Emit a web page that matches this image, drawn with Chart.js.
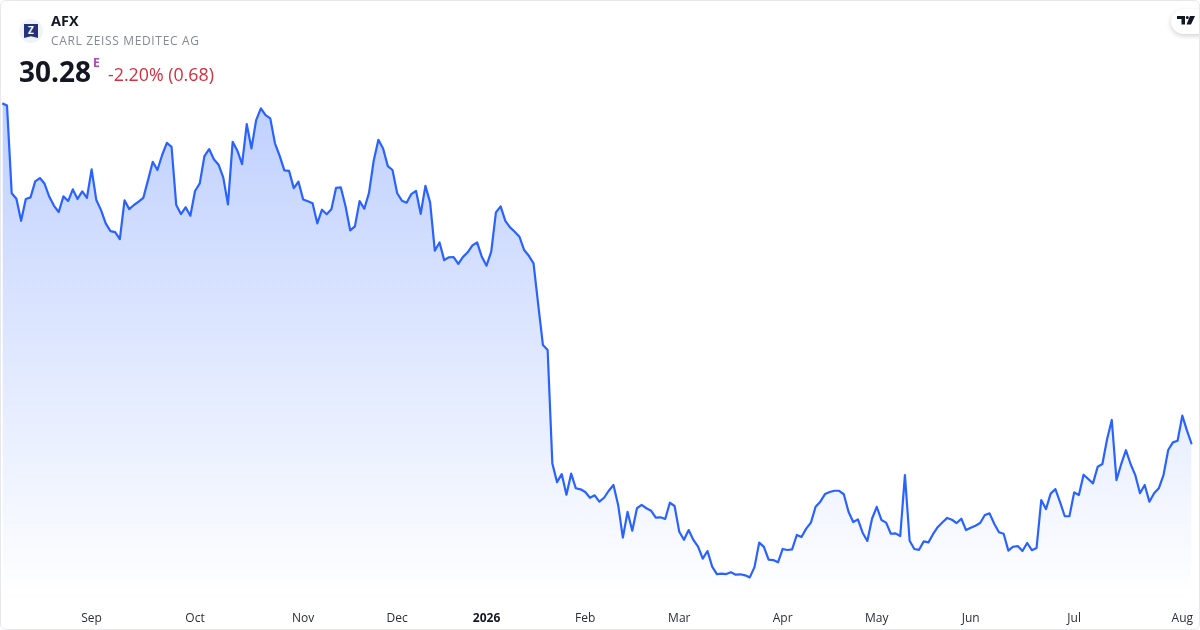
<!DOCTYPE html>
<html lang="en">
<head>
<meta charset="UTF-8">
<title>AFX</title>
<script src="https://cdn.jsdelivr.net/npm/chart.js"></script>
<style>
    html, body { margin: 0; padding: 0; background: #fff; }
    body { font-family: "Open Sans", sans-serif; }
    .card { position: absolute; left: 0; top: 0; width: 1200px; height: 630px; box-sizing: border-box; border: 1px solid #e6e8ee; border-radius: 6px; overflow: hidden; background: #fff; }
    canvas { position: absolute; left: -1px; top: -1px; }
    .t { position: absolute; white-space: nowrap; line-height: 1; }
    .logo { position: absolute; left: 18px; top: 18px; width: 24px; height: 24px; border-radius: 50%; background: #f0f3fa; }
    .logo div { position: absolute; left: 5px; top: 5px; width: 14px; height: 14px; background: #27307c; color: #fff; font: bold 10px/13px "Open Sans", sans-serif; text-align: center; clip-path: polygon(0 0, 100% 0, 100% 100%, 50% 88%, 0 100%); }
    .badge { position: absolute; left: 1170px; top: 8px; width: 50px; height: 25px; border-radius: 13px; background: #fff; box-shadow: 0 2px 5px rgba(0,0,0,.18); }
</style>
</head>
<body>
<div class="card">
    <canvas id="c" width="1200" height="630"></canvas>
    <div class="logo"><div>Z</div></div>
    <div class="t" style="left:50px;top:13px;font-size:14.5px;font-weight:700;color:#131722">AFX</div>
    <div class="t" style="left:50px;top:34px;font-size:12px;letter-spacing:.65px;color:#868993">CARL ZEISS MEDITEC AG</div>
    <div class="t" style="left:18px;top:56px;font-size:28px;font-weight:700;color:#131722">30.28</div>
    <div class="t" style="left:92px;top:56px;font-size:12px;font-weight:700;color:#ab47bc">E</div>
    <div class="t" style="left:107px;top:65px;font-size:17.8px;color:#d32f3f">-2.20% (0.68)</div>
    <div class="badge">
        <svg style="position:absolute;left:6px;top:7px" width="18" height="10" viewBox="0 0 18 10"><path d="M0 0h8v8.5H4.5V3H0z M10.3 0a1.5 1.5 0 1 1 0 3a1.5 1.5 0 0 1 0-3z M13 0h5l-4 8.5H9.5z" fill="#131722"/></svg>
    </div>
</div>

<script>
    // daily close, EUR
    const closes = [
        46.85,46.75,42.48,42.21,41.14,42.20,42.28,43.06,43.22,42.94,
        42.31,41.87,41.57,42.33,42.10,42.67,42.20,42.57,42.26,43.64,
        42.15,41.66,41.02,40.64,40.59,40.25,42.14,41.71,41.91,42.07,
        42.26,43.12,44.01,43.61,44.34,44.93,44.74,41.91,41.47,41.80,
        41.39,42.59,42.96,44.29,44.63,44.13,43.87,43.25,41.94,44.98,
        44.55,43.90,45.84,44.66,46.04,46.61,46.28,46.12,44.91,44.30,
        43.59,43.57,42.73,43.04,42.18,42.09,41.99,41.02,41.68,41.46,
        41.70,42.75,42.77,41.86,40.68,40.87,42.10,41.73,42.50,44.06,
        45.08,44.66,43.80,43.61,42.48,42.12,42.02,42.44,42.60,41.48,
        42.84,42.04,39.69,40.09,39.23,39.37,39.38,39.05,39.39,39.61,
        39.95,40.09,39.39,38.96,39.64,41.55,41.84,41.14,40.82,40.61,
        40.37,39.72,39.44,39.07,37.05,35.10,34.86,29.35,28.44,28.83,
        27.83,28.85,28.14,28.09,27.96,27.68,27.80,27.49,27.68,28.02,
        28.30,27.33,25.74,26.99,26.08,27.17,27.33,27.17,27.05,26.71,
        26.73,26.65,27.44,27.28,26.03,25.64,26.11,25.63,25.30,24.72,
        25.09,24.33,23.97,23.99,23.97,24.06,23.94,23.96,23.91,23.81,
        24.31,25.50,25.29,24.67,24.65,24.54,25.19,25.14,25.17,25.87,
        25.77,26.18,26.47,27.24,27.49,27.86,27.96,28.02,28.02,27.85,
        27.00,26.50,26.63,25.98,25.58,26.66,27.24,26.60,26.47,25.93,
        25.95,25.82,28.78,25.59,25.19,25.15,25.56,25.51,25.92,26.26,
        26.49,26.70,26.61,26.45,26.66,26.11,26.22,26.32,26.45,26.84,
        26.92,26.42,26.00,25.93,25.11,25.30,25.33,25.09,25.48,25.13,
        25.24,27.57,27.13,27.88,28.10,27.47,26.78,26.79,27.94,27.81,
        28.80,28.59,28.38,29.19,29.32,30.52,31.46,28.54,29.31,29.99,
        29.32,28.78,27.90,28.30,27.49,27.90,28.14,28.78,30.00,30.37,
        30.45,31.67,30.94,30.28
    ];

    // month labels and the trading day each one sits on
    const monthNames = ['Sep','Oct','Nov','Dec','2026','Feb','Mar','Apr','May','Jun','Jul','Aug'];
    const monthDays  = [19,41,64,84,103,124,144,166,186,206,228,251];

    const labels = closes.map((_, i) => {
        const m = monthDays.indexOf(i);
        return m >= 0 ? monthNames[m] : '';
    });

    const areaFill = ({ chart }) => {
        const { ctx, chartArea } = chart;
        if (!chartArea) return 'transparent';
        const g = ctx.createLinearGradient(0, chartArea.top, 0, chartArea.bottom);
        g.addColorStop(0, 'rgba(41,98,255,0.3)');
        g.addColorStop(1, 'rgba(41,98,255,0)');
        return g;
    };

    new Chart(document.getElementById('c'), {
        type: 'line',
        data: {
            labels: labels,
            datasets: [{
                data: closes,
                borderColor: '#2962ff',
                borderWidth: 2.2,
                pointRadius: 0,
                tension: 0,
                fill: 'start',
                backgroundColor: areaFill,
                borderJoinStyle: 'round'
            }]
        },
        options: {
            responsive: false,
            animation: false,
            layout: { padding: { left: 2.3, right: 8.3, top: 90, bottom: 0 } },
            plugins: { legend: { display: false }, tooltip: { enabled: false } },
            scales: {
                y: { display: false, min: 22.71, max: 47.5 },
                x: {
                    offset: false,
                    border: { display: false },
                    grid: { display: false, tickLength: 11 },
                    afterFit: s => { s.height = 30; },
                    ticks: {
                        autoSkip: false,
                        maxRotation: 0,
                        padding: 0,
                        color: ctx => ctx.tick && ctx.tick.label === '2026' ? '#131722' : '#2a2e39',
                        font: ctx => ({
                            family: '"Open Sans", sans-serif',
                            size: 12,
                            weight: ctx.tick && ctx.tick.label === '2026' ? '700' : '400'
                        })
                    }
                }
            }
        }
    });
</script>
</body>
</html>
